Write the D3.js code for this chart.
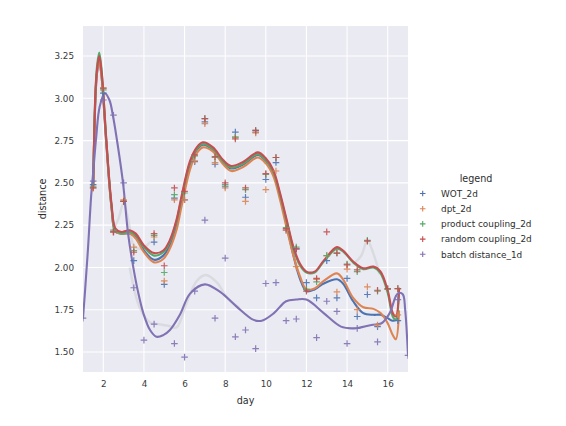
<!DOCTYPE html>
<html>
<head>
<meta charset="utf-8">
<script src="https://cdn.jsdelivr.net/npm/d3@7"></script>
<style>
  body { margin: 0; background: #ffffff; }
  text { font-family: "DejaVu Sans", sans-serif; }
</style>
</head>
<body>
<svg id="chart" width="566" height="426"></svg>
<script>
// ---- series definitions ----
const seriesNames = ["WOT_2d", "dpt_2d", "product coupling_2d", "random coupling_2d", "batch distance_1d"];
const seriesColors = ["#4c72b0", "#dd8452", "#55a868", "#c44e52", "#8172b3"];

// measured points (2d methods share the same sampled days)
const days2d = [1.5, 2, 2.5, 3, 3.5, 4.5, 5, 5.5, 6, 6.5, 7, 7.5, 8, 8.5, 9, 9.5, 10, 10.5, 11, 11.5, 12, 12.5, 13, 13.5, 14, 14.5, 15, 15.5, 16, 16.5];
const wotPoints     = [2.49, 3.03, 2.21, 2.39, 2.04, 2.15, 1.90, 2.41, 2.40, 2.625, 2.86, 2.61, 2.48, 2.80, 2.415, 2.80, 2.52, 2.62, 2.22, 2.11, 1.91, 1.82, 2.04, 1.82, 1.935, 1.71, 1.84, 1.65, null, 1.685];
const dptPoints     = [2.47, 3.06, 2.21, 2.40, 2.12, 2.18, 1.92, 2.40, 2.40, 2.63, 2.85, 2.62, 2.47, 2.77, 2.39, 2.795, 2.46, 2.57, 2.22, 2.005, 1.87, 1.93, 2.07, 1.855, 1.99, 1.75, 1.885, 1.66, null, 1.72];
const productPoints = [2.48, 3.05, 2.22, 2.39, 2.10, 2.19, 1.97, 2.43, 2.44, 2.66, 2.88, 2.65, 2.49, 2.77, 2.46, 2.81, 2.55, 2.65, 2.235, 2.12, 1.87, 1.915, 2.07, 2.085, 2.02, 1.975, 2.16, 1.86, 1.87, 1.875];
const randomPoints  = [2.47, 3.06, 2.21, 2.39, 2.09, 2.20, 2.01, 2.47, 2.45, 2.665, 2.88, 2.655, 2.50, 2.76, 2.47, 2.81, 2.555, 2.65, 2.23, 2.11, 1.86, 1.935, 2.21, 2.085, 2.015, 1.985, 2.155, 1.865, 1.875, 1.875];

const daysBatch   = [1, 1.5, 2, 2.5, 3, 3.5, 4, 4.5, 5.5, 6, 6.5, 7, 7.5, 8, 8.5, 9, 9.5, 10, 10.5, 11, 11.5, 12.5, 13, 13.5, 14, 14.5, 15.5, 16.5, 17];
const batchPoints = [1.70, 2.51, 2.99, 2.90, 2.50, 1.88, 1.57, 1.665, 1.55, 1.47, 1.86, 2.28, 1.70, 2.055, 1.59, 1.63, 1.52, 1.905, 1.91, 1.685, 1.695, 1.585, 1.80, 1.74, 1.55, 1.64, 1.56, 1.81, 1.48];

// smoothed trend curves (knots of the fitted curves)
const knotDays2d = [1.5, 1.62, 1.7, 1.8, 1.92, 2.15, 2.4, 2.6, 2.9, 3.3, 3.6, 4.0, 4.5, 4.95, 5.27, 5.6, 5.85, 6.27, 6.6, 6.9, 7.4, 7.9, 8.3, 8.9, 9.6, 10.0, 10.37, 10.7, 11.03, 11.36, 11.69, 12.0, 12.4, 12.85, 13.5, 13.8, 14.3, 14.8, 15.3, 15.65, 16.0, 16.25, 16.4, 16.56];
const wotCurve     = [2.49, 3.02, 3.16, 3.22, 3.12, 2.73, 2.36, 2.21, 2.20, 2.20, 2.18, 2.10, 2.045, 2.07, 2.13, 2.25, 2.39, 2.61, 2.695, 2.725, 2.695, 2.62, 2.585, 2.61, 2.665, 2.63, 2.555, 2.42, 2.25, 2.07, 1.93, 1.86, 1.87, 1.905, 1.93, 1.905, 1.80, 1.73, 1.72, 1.72, 1.70, 1.685, 1.69, 1.72];
const dptCurve     = [2.47, 3.03, 3.16, 3.22, 3.12, 2.73, 2.36, 2.21, 2.20, 2.20, 2.17, 2.09, 2.03, 2.05, 2.11, 2.22, 2.36, 2.58, 2.675, 2.71, 2.685, 2.61, 2.57, 2.595, 2.65, 2.615, 2.54, 2.40, 2.23, 2.07, 1.945, 1.87, 1.875, 1.92, 1.965, 1.93, 1.82, 1.765, 1.755, 1.73, 1.67, 1.60, 1.575, 1.74];
const productCurve = [2.48, 3.06, 3.20, 3.27, 3.16, 2.75, 2.37, 2.22, 2.20, 2.21, 2.19, 2.12, 2.07, 2.09, 2.15, 2.27, 2.41, 2.62, 2.70, 2.73, 2.70, 2.625, 2.59, 2.615, 2.67, 2.635, 2.565, 2.43, 2.27, 2.11, 2.01, 1.97, 1.97, 2.035, 2.11, 2.095, 2.03, 1.99, 2.00, 1.965, 1.85, 1.71, 1.69, 1.87];
const randomCurve  = [2.47, 3.05, 3.18, 3.25, 3.15, 2.75, 2.38, 2.23, 2.21, 2.22, 2.20, 2.13, 2.085, 2.10, 2.16, 2.28, 2.42, 2.63, 2.71, 2.74, 2.71, 2.635, 2.60, 2.625, 2.68, 2.645, 2.575, 2.44, 2.28, 2.12, 2.02, 1.975, 1.975, 2.04, 2.12, 2.10, 2.035, 1.995, 2.005, 1.975, 1.865, 1.73, 1.71, 1.875];

const knotDaysBatch = [1.0, 1.1, 1.25, 1.4, 1.5, 1.65, 1.82, 2.07, 2.3, 2.47, 2.72, 2.97, 3.22, 3.47, 3.72, 3.97, 4.3, 4.62, 4.95, 5.28, 5.77, 6.27, 7.0, 7.75, 8.55, 9.4, 9.8, 10.4, 11.0, 11.5, 12.0, 12.85, 13.7, 14.35, 15.2, 15.7, 16.1, 16.4, 16.55, 16.75, 16.86, 17.0];
const batchCurve    = [1.70, 1.86, 2.12, 2.42, 2.56, 2.77, 2.95, 3.03, 2.99, 2.90, 2.715, 2.50, 2.20, 2.005, 1.85, 1.73, 1.63, 1.59, 1.60, 1.63, 1.72, 1.845, 1.90, 1.855, 1.77, 1.69, 1.685, 1.73, 1.80, 1.81, 1.81, 1.73, 1.65, 1.64, 1.66, 1.67, 1.73, 1.83, 1.85, 1.84, 1.75, 1.48];

// faint reference traces
const faintBatchDays = [3.3, 3.8, 4.3, 4.7, 5.2, 5.6, 6.1, 6.6, 7.05, 7.6, 8.1, 8.7];
const faintBatchVals = [2.00, 1.76, 1.675, 1.665, 1.655, 1.645, 1.79, 1.92, 1.955, 1.91, 1.82, 1.76];
const faint2dDays = [2.45, 2.75, 3.0, 3.25, 3.5, 3.9, 4.3];
const faint2dVals = [2.21, 2.29, 2.38, 2.27, 2.13, 2.11, 2.15];
const faint2dLateDays = [14.3, 14.7, 15.0, 15.3, 15.6];
const faint2dLateVals = [2.02, 2.07, 2.16, 2.08, 1.96];

const xTicks = [2, 4, 6, 8, 10, 12, 14, 16];
const yTicks = [1.50, 1.75, 2.00, 2.25, 2.50, 2.75, 3.00, 3.25];

// ---- layout ----
const svg = d3.select("#chart");
const plot = { left: 83, right: 408, top: 26, bottom: 372 };
const x = d3.scaleLinear().domain([1, 17]).range([plot.left, plot.right]);
const y = d3.scaleLinear().domain([1.3818, 3.4274]).range([plot.bottom, plot.top]);

svg.append("rect")
  .attr("x", plot.left).attr("y", plot.top)
  .attr("width", plot.right - plot.left).attr("height", plot.bottom - plot.top)
  .attr("fill", "#eaeaf2");

// grid
const grid = svg.append("g");
grid.selectAll(".gx").data(xTicks).join("line")
  .attr("x1", d => x(d)).attr("x2", d => x(d))
  .attr("y1", plot.top).attr("y2", plot.bottom)
  .attr("stroke", "#ffffff").attr("stroke-width", 1.1);
grid.selectAll(".gy").data(yTicks).join("line")
  .attr("y1", d => y(d)).attr("y2", d => y(d))
  .attr("x1", plot.left).attr("x2", plot.right)
  .attr("stroke", "#ffffff").attr("stroke-width", 1.1);

// axes
const xAxis = svg.append("g")
  .attr("transform", `translate(0,${plot.bottom})`)
  .call(d3.axisBottom(x).tickValues(xTicks).tickSize(0).tickPadding(9).tickFormat(d3.format("d")));
const yAxis = svg.append("g")
  .attr("transform", `translate(${plot.left},0)`)
  .call(d3.axisLeft(y).tickValues(yTicks).tickSize(0).tickPadding(9).tickFormat(d3.format(".2f")));
[xAxis, yAxis].forEach(a => {
  a.select(".domain").remove();
  a.selectAll("text").attr("fill", "#3a3a3a").style("font-size", "8.8px").style("font-family", "DejaVu Sans, sans-serif");
});

svg.append("text").attr("x", (plot.left + plot.right) / 2).attr("y", 404)
  .attr("text-anchor", "middle").attr("fill", "#2e2e2e").style("font-size", "9.6px").text("day");
svg.append("text").attr("transform", `translate(46,${(plot.top + plot.bottom) / 2}) rotate(-90)`)
  .attr("text-anchor", "middle").attr("fill", "#2e2e2e").style("font-size", "9.6px").text("distance");

// clip to the plotting area
svg.append("clipPath").attr("id", "plotClip").append("rect")
  .attr("x", plot.left).attr("y", plot.top)
  .attr("width", plot.right - plot.left).attr("height", plot.bottom - plot.top);
const layer = svg.append("g").attr("clip-path", "url(#plotClip)");

const line = d3.line()
  .defined(d => d[1] != null)
  .x(d => x(d[0])).y(d => y(d[1]))
  .curve(d3.curveCatmullRom.alpha(0.5));

const zipPairs = (ds, vs) => ds.map((d, i) => [d, vs[i]]);

// faint traces
[[faintBatchDays, faintBatchVals], [faint2dDays, faint2dVals], [faint2dLateDays, faint2dLateVals]].forEach(([ds, vs]) => {
  layer.append("path").attr("d", line(zipPairs(ds, vs)))
    .attr("fill", "none").attr("stroke", "#c9c9cf").attr("stroke-opacity", 0.5).attr("stroke-width", 2.4);
});

// trend curves
const curves = [
  [knotDays2d, wotCurve],
  [knotDays2d, dptCurve],
  [knotDays2d, productCurve],
  [knotDays2d, randomCurve],
  [knotDaysBatch, batchCurve]
];
curves.forEach(([ds, vs], i) => {
  layer.append("path").attr("d", line(zipPairs(ds, vs)))
    .attr("fill", "none").attr("stroke", seriesColors[i]).attr("stroke-width", 2.1)
    .attr("stroke-linejoin", "round").attr("stroke-linecap", "round");
});

// scatter markers
const plus = "M-3.3,0H3.3M0,-3.3V3.3";
const pointSets = [
  [days2d, wotPoints],
  [days2d, dptPoints],
  [days2d, productPoints],
  [days2d, randomPoints],
  [daysBatch, batchPoints]
];
pointSets.forEach(([ds, vs], i) => {
  layer.append("g").selectAll("path")
    .data(zipPairs(ds, vs).filter(d => d[1] != null))
    .join("path")
    .attr("d", plus)
    .attr("transform", d => `translate(${x(d[0])},${y(d[1])})`)
    .attr("stroke", seriesColors[i]).attr("stroke-opacity", 0.9)
    .attr("stroke-width", 1.2).attr("fill", "none");
});

// legend
const legend = svg.append("g");
legend.append("text").attr("x", 476).attr("y", 181.5).attr("text-anchor", "middle")
  .attr("fill", "#2e2e2e").style("font-size", "9.6px").text("legend");
seriesNames.forEach((name, i) => {
  const ly = 193.5 + i * 15.2;
  legend.append("path").attr("d", "M-2.8,0H2.8M0,-2.8V2.8").attr("transform", `translate(422.7,${ly})`)
    .attr("stroke", seriesColors[i]).attr("stroke-width", 1.1).attr("fill", "none");
  legend.append("text").attr("x", 441).attr("y", ly + 3.2)
    .attr("fill", "#2e2e2e").style("font-size", "8.9px").text(name);
});
</script>
</body>
</html>
